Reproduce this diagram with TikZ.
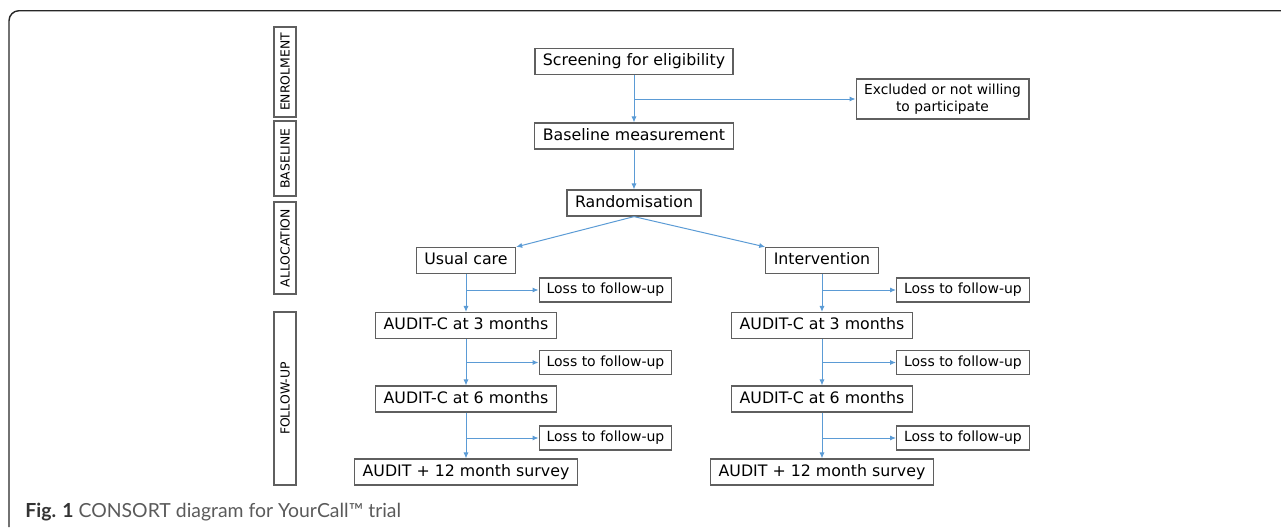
\documentclass[tikz,border=0pt]{standalone}
\usepackage{fontspec}
\setmainfont{DejaVu Sans}
\newfontfamily\capfont{Lato}
\usetikzlibrary{arrows.meta}
\definecolor{flowblue}{RGB}{91,155,213}
\definecolor{boxgray}{RGB}{95,95,95}
\definecolor{capgray}{RGB}{90,90,90}

\begin{document}
\begin{tikzpicture}[x=0.5pt, y=-0.5pt,
    box/.style={draw=boxgray, line width=0.6pt, inner xsep=4pt, inner ysep=0pt},
    stepbox/.style={box, minimum height=13pt, text height=6pt, text depth=1.7pt, font=\fontsize{7.9}{9}\selectfont},
    lossbox/.style={box, inner xsep=3.75pt, minimum height=12pt, text height=5.4pt, text depth=1.5pt, font=\fontsize{7}{8.4}\selectfont},
    phase/.style={draw=boxgray, line width=0.6pt, rotate=90, minimum height=11pt, inner sep=0pt, font=\fontsize{6.2}{7}\selectfont},
    arr/.style={flowblue, line width=0.5pt, -{Latex[length=3pt,width=2.6pt]}}]
    \useasboundingbox (0,0) rectangle (1281,527);

    % Frame
    \draw[line width=0.7pt, rounded corners=5pt, black!85] (9,527) -- (9,10.7) -- (1281,10.7);

    % Phases
    \node[phase, minimum width=45pt] (enrol) at (285,72) {ENROLMENT};
    \node[phase, minimum width=37.5pt] (basel) at (285,158.5) {BASELINE};
    \node[phase, minimum width=46pt] (alloc) at (285,248) {ALLOCATION};
    \node[phase, minimum width=86.5pt] (follow) at (285,398.5) {FOLLOW-UP};

    % Enrolment and allocation
    \node[stepbox] (screen) at (634,61.5) {Screening for eligibility};
    \node[box, anchor=west, align=center, minimum height=20pt, font=\fontsize{6.9}{8.7}\selectfont] (excl) at (855.5,99) {Excluded or not willing\\to participate};
    \node[stepbox] (base) at (634,136) {Baseline measurement};
    \node[stepbox] (rand) at (634,203) {Randomisation};
    \node[stepbox] (uc) at (466,260.5) {Usual care};
    \node[stepbox] (int) at (822,260.5) {Intervention};

    \draw[arr] (screen.south |- excl.west) -- (excl.west);
    \draw[arr] (screen.south) -- (base.north);
    \draw[arr] (base.south) -- (rand.north);
    \draw[arr] (rand.south) -- (uc.north east);
    \draw[arr] (rand.south) -- (int.north west);

    % Follow-up, both arms
    \foreach \s/\cx/\lx/\top in {l/466/538.5/uc, r/822/896/int} {
        \node[stepbox] (mthree\s) at (\cx,325.5) {AUDIT-C at 3 months};
        \node[stepbox] (msix\s) at (\cx,399) {AUDIT-C at 6 months};
        \node[stepbox] (mtwelve\s) at (\cx,472) {AUDIT + 12 month survey};
        \node[lossbox, anchor=west] (lossa\s) at (\lx,290) {Loss to follow-up};
        \node[lossbox, anchor=west] (lossb\s) at (\lx,362.5) {Loss to follow-up};
        \node[lossbox, anchor=west] (lossc\s) at (\lx,438) {Loss to follow-up};

        \draw[arr] (\top.south) -- (mthree\s.north);
        \draw[arr] (mthree\s.south) -- (msix\s.north);
        \draw[arr] (msix\s.south) -- (mtwelve\s.north);
        \draw[arr] (\top.south |- lossa\s.west) -- (lossa\s.west);
        \draw[arr] (mthree\s.south |- lossb\s.west) -- (lossb\s.west);
        \draw[arr] (msix\s.south |- lossc\s.west) -- (lossc\s.west);
    }

    % Caption
    \node[anchor=base west, inner sep=0pt, text=capgray, font=\capfont\fontsize{9.7}{11}\selectfont] (cap) at (25,517) {{\color{black!80}\textbf{Fig. 1}} CONSORT diagram for YourCall™ trial};
\end{tikzpicture}
\end{document}
